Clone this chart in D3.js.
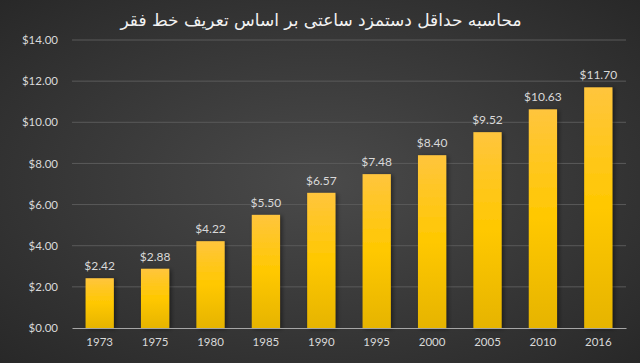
<!DOCTYPE html>
<html>
<head>
<meta charset="utf-8">
<script src="https://cdn.jsdelivr.net/npm/d3@7.9.0/dist/d3.min.js"></script>
<style>
  body { margin: 0; background: #333; }
  svg { display: block; }
</style>
</head>
<body>
<svg id="chart" width="640" height="363"></svg>
<script>
// Chart data
const years = ["1973", "1975", "1980", "1985", "1990", "1995", "2000", "2005", "2010", "2016"];
const wages = [2.42, 2.88, 4.22, 5.50, 6.57, 7.48, 8.40, 9.52, 10.63, 11.70];
const yTicks = [0, 2, 4, 6, 8, 10, 12, 14];
const title = "محاسبه حداقل دستمزد ساعتی بر اساس تعریف خط فقر";

const width = 640, height = 363;
const margin = { top: 40, right: 14, bottom: 35, left: 72 };
const labelFont = "Lato, 'Liberation Sans', sans-serif";

const svg = d3.select("#chart");
const defs = svg.append("defs");

// Background gradient
const bg = defs.append("radialGradient").attr("id", "bg")
  .attr("cx", "50%").attr("cy", "50%").attr("r", "75%");
bg.append("stop").attr("offset", "0%").attr("stop-color", "#4a4a4a");
bg.append("stop").attr("offset", "100%").attr("stop-color", "#262626");

// Bar gradient
const barGrad = defs.append("linearGradient").attr("id", "barGrad")
  .attr("x1", 0).attr("y1", 0).attr("x2", 0).attr("y2", 1);
barGrad.append("stop").attr("offset", "0%").attr("stop-color", "#ffc53d");
barGrad.append("stop").attr("offset", "50%").attr("stop-color", "#ffc800");
barGrad.append("stop").attr("offset", "100%").attr("stop-color", "#e6b400");

// Soft shadow for bars
const shadow = defs.append("filter").attr("id", "shadow")
  .attr("x", "-30%").attr("y", "-10%").attr("width", "160%").attr("height", "120%");
shadow.append("feDropShadow").attr("dx", 2).attr("dy", 1)
  .attr("stdDeviation", 2).attr("flood-color", "#000").attr("flood-opacity", 0.45);

svg.append("rect").attr("width", width).attr("height", height).attr("fill", "url(#bg)");

// Scales
const x = d3.scaleBand()
  .domain(years)
  .range([margin.left, width - margin.right])
  .paddingInner(0.49)
  .paddingOuter(0.245);

const y = d3.scaleLinear()
  .domain([0, 14])
  .range([height - margin.bottom, margin.top]);

// Gridlines
svg.append("g")
  .selectAll("line")
  .data(yTicks.filter(d => d > 0))
  .join("line")
  .attr("x1", margin.left)
  .attr("x2", width - margin.right)
  .attr("y1", d => y(d))
  .attr("y2", d => y(d))
  .attr("stroke", "#5a5a5a")
  .attr("stroke-width", 1);

// Y axis labels
const yAxis = svg.append("g")
  .attr("transform", `translate(${margin.left},0)`)
  .call(d3.axisLeft(y).tickValues(yTicks).tickSize(0).tickPadding(14)
    .tickFormat(d => "$" + d3.format(".2f")(d)));
yAxis.select(".domain").remove();
yAxis.selectAll("text")
  .attr("fill", "#d9d9d9")
  .style("font-family", labelFont)
  .style("font-size", "11.5px");

// Bars
svg.append("g")
  .selectAll("rect")
  .data(wages)
  .join("rect")
  .attr("x", (d, i) => x(years[i]))
  .attr("y", d => y(d))
  .attr("width", x.bandwidth())
  .attr("height", d => y(0) - y(d))
  .attr("fill", "url(#barGrad)")
  .attr("filter", "url(#shadow)");

// Value labels
svg.append("g")
  .selectAll("text")
  .data(wages)
  .join("text")
  .attr("x", (d, i) => x(years[i]) + x.bandwidth() / 2)
  .attr("y", d => y(d) - 8)
  .attr("text-anchor", "middle")
  .attr("fill", "#d9d9d9")
  .style("font-family", labelFont)
  .style("font-size", "12px")
  .text(d => "$" + d3.format(".2f")(d));

// X axis
const xAxis = svg.append("g")
  .attr("transform", `translate(0,${y(0)})`)
  .call(d3.axisBottom(x).tickSize(0).tickPadding(10));
xAxis.select(".domain").attr("stroke", "#a6a6a6").attr("stroke-width", 1.2);
xAxis.selectAll("text")
  .attr("fill", "#d9d9d9")
  .style("font-family", labelFont)
  .style("font-size", "11.5px");

// Title
svg.append("text")
  .attr("x", 321)
  .attr("y", 26)
  .attr("text-anchor", "middle")
  .attr("direction", "rtl")
  .attr("fill", "#f2f2f2")
  .style("font-family", "'DejaVu Sans', 'Noto Sans', sans-serif")
  .style("font-size", "17px")
  .text(title);
</script>
</body>
</html>
